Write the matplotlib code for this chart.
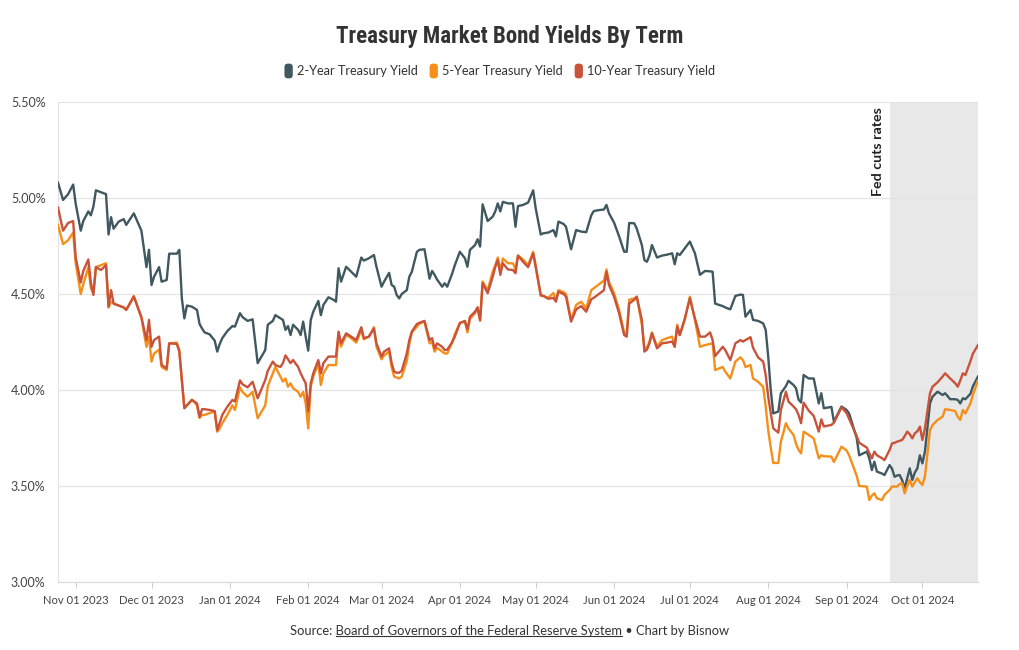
import pandas as pd
import numpy as np
import matplotlib
matplotlib.use("Agg")
import matplotlib.pyplot as plt
import matplotlib.dates as mdates
from matplotlib import font_manager
from matplotlib.patches import Patch, FancyBboxPatch
from matplotlib.legend_handler import HandlerPatch
from matplotlib.lines import Line2D

plt.rcParams["font.family"] = ["Lato", "DejaVu Sans"]

# --- data ---
dates = [
    "2023-10-25", "2023-10-27", "2023-10-29", "2023-10-31", "2023-11-01", "2023-11-03", "2023-11-04", "2023-11-06", "2023-11-07", "2023-11-08",
    "2023-11-09", "2023-11-11", "2023-11-13", "2023-11-14", "2023-11-15", "2023-11-16", "2023-11-18", "2023-11-20", "2023-11-21", "2023-11-24",
    "2023-11-27", "2023-11-29", "2023-11-30", "2023-12-01", "2023-12-02", "2023-12-04", "2023-12-05", "2023-12-07", "2023-12-08", "2023-12-11",
    "2023-12-12", "2023-12-13", "2023-12-14", "2023-12-15", "2023-12-17", "2023-12-19", "2023-12-20", "2023-12-21", "2023-12-22", "2023-12-24",
    "2023-12-26", "2023-12-27", "2023-12-28", "2023-12-29", "2023-12-31", "2024-01-02", "2024-01-03", "2024-01-05", "2024-01-06", "2024-01-08",
    "2024-01-10", "2024-01-12", "2024-01-15", "2024-01-16", "2024-01-18", "2024-01-19", "2024-01-21", "2024-01-22", "2024-01-23", "2024-01-24",
    "2024-01-25", "2024-01-26", "2024-01-28", "2024-01-29", "2024-01-30", "2024-01-31", "2024-02-01", "2024-02-02", "2024-02-03", "2024-02-05",
    "2024-02-06", "2024-02-07", "2024-02-09", "2024-02-11", "2024-02-12", "2024-02-13", "2024-02-14", "2024-02-16", "2024-02-18", "2024-02-20",
    "2024-02-22", "2024-02-23", "2024-02-25", "2024-02-27", "2024-02-28", "2024-03-01", "2024-03-02", "2024-03-04", "2024-03-05", "2024-03-06",
    "2024-03-07", "2024-03-08", "2024-03-09", "2024-03-11", "2024-03-12", "2024-03-13", "2024-03-15", "2024-03-16", "2024-03-18", "2024-03-20",
    "2024-03-21", "2024-03-22", "2024-03-23", "2024-03-25", "2024-03-26", "2024-03-27", "2024-03-29", "2024-03-30", "2024-04-01", "2024-04-03",
    "2024-04-04", "2024-04-05", "2024-04-07", "2024-04-08", "2024-04-09", "2024-04-10", "2024-04-12", "2024-04-14", "2024-04-15", "2024-04-16",
    "2024-04-17", "2024-04-18", "2024-04-20", "2024-04-22", "2024-04-23", "2024-04-24", "2024-04-26", "2024-04-28", "2024-04-30", "2024-05-01",
    "2024-05-03", "2024-05-04", "2024-05-06", "2024-05-08", "2024-05-09", "2024-05-10", "2024-05-12", "2024-05-13", "2024-05-15", "2024-05-17",
    "2024-05-19", "2024-05-21", "2024-05-23", "2024-05-24", "2024-05-26", "2024-05-28", "2024-05-29", "2024-05-30", "2024-06-01", "2024-06-03",
    "2024-06-05", "2024-06-06", "2024-06-07", "2024-06-09", "2024-06-10", "2024-06-12", "2024-06-13", "2024-06-14", "2024-06-15", "2024-06-16",
    "2024-06-18", "2024-06-20", "2024-06-22", "2024-06-24", "2024-06-25", "2024-06-26", "2024-06-27", "2024-06-29", "2024-07-01", "2024-07-03",
    "2024-07-05", "2024-07-07", "2024-07-09", "2024-07-10", "2024-07-11", "2024-07-14", "2024-07-15", "2024-07-17", "2024-07-19", "2024-07-21",
    "2024-07-22", "2024-07-23", "2024-07-25", "2024-07-26", "2024-07-28", "2024-07-30", "2024-07-31", "2024-08-01", "2024-08-02", "2024-08-03",
    "2024-08-05", "2024-08-06", "2024-08-08", "2024-08-09", "2024-08-11", "2024-08-12", "2024-08-13", "2024-08-14", "2024-08-15", "2024-08-17",
    "2024-08-19", "2024-08-21", "2024-08-22", "2024-08-23", "2024-08-26", "2024-08-27", "2024-08-30", "2024-09-01", "2024-09-02", "2024-09-05",
    "2024-09-06", "2024-09-09", "2024-09-10", "2024-09-11", "2024-09-12", "2024-09-13", "2024-09-15", "2024-09-16", "2024-09-18", "2024-09-19",
    "2024-09-20", "2024-09-21", "2024-09-22", "2024-09-23", "2024-09-24", "2024-09-25", "2024-09-26", "2024-09-27", "2024-09-28", "2024-09-29",
    "2024-09-30", "2024-10-01", "2024-10-02", "2024-10-04", "2024-10-05", "2024-10-07", "2024-10-09", "2024-10-10", "2024-10-12", "2024-10-14",
    "2024-10-15", "2024-10-16", "2024-10-17", "2024-10-18", "2024-10-20", "2024-10-21", "2024-10-23",
]

yield_2y = [
    5.08, 4.99, 5.02, 5.07, 4.97, 4.83, 4.88, 4.93, 4.91, 4.955,
    5.04, 5.03, 5.02, 4.81, 4.90, 4.84, 4.877, 4.89, 4.86, 4.92,
    4.83, 4.64, 4.73, 4.547, 4.59, 4.64, 4.564, 4.573, 4.71, 4.71,
    4.73, 4.477, 4.373, 4.44, 4.434, 4.417, 4.344, 4.32, 4.30, 4.29,
    4.257, 4.20, 4.24, 4.27, 4.307, 4.333, 4.33, 4.40, 4.38, 4.36,
    4.368, 4.14, 4.208, 4.34, 4.36, 4.39, 4.373, 4.365, 4.313, 4.333,
    4.286, 4.34, 4.313, 4.286, 4.356, 4.278, 4.205, 4.365, 4.408, 4.464,
    4.39, 4.443, 4.483, 4.47, 4.46, 4.634, 4.564, 4.642, 4.616, 4.59,
    4.69, 4.674, 4.686, 4.703, 4.642, 4.538, 4.564, 4.61, 4.547, 4.538,
    4.495, 4.477, 4.50, 4.52, 4.59, 4.616, 4.72, 4.73, 4.733, 4.58,
    4.62, 4.60, 4.575, 4.538, 4.556, 4.538, 4.608, 4.65, 4.72, 4.686,
    4.642, 4.73, 4.755, 4.785, 4.747, 4.967, 4.88, 4.903, 4.93, 4.972,
    4.93, 4.98, 4.972, 4.972, 4.85, 4.958, 4.964, 4.976, 5.04, 4.946,
    4.81, 4.816, 4.82, 4.833, 4.80, 4.877, 4.865, 4.85, 4.733, 4.833,
    4.825, 4.822, 4.91, 4.932, 4.937, 4.94, 4.964, 4.92, 4.872, 4.80,
    4.72, 4.72, 4.87, 4.868, 4.84, 4.755, 4.677, 4.668, 4.70, 4.755,
    4.69, 4.70, 4.705, 4.712, 4.655, 4.712, 4.703, 4.738, 4.773, 4.712,
    4.60, 4.62, 4.618, 4.616, 4.45, 4.437, 4.43, 4.42, 4.49, 4.497,
    4.495, 4.382, 4.417, 4.365, 4.36, 4.347, 4.313, 4.174, 4.0, 3.878,
    3.888, 3.983, 4.02, 4.048, 4.026, 4.009, 3.95, 3.935, 4.078, 4.06,
    4.06, 3.93, 3.983, 3.905, 3.912, 3.835, 3.914, 3.896, 3.878, 3.75,
    3.66, 3.679, 3.644, 3.583, 3.627, 3.575, 3.565, 3.557, 3.609, 3.59,
    3.548, 3.555, 3.557, 3.53, 3.488, 3.54, 3.592, 3.531, 3.57, 3.592,
    3.66, 3.618, 3.679, 3.93, 3.965, 3.991, 3.974, 3.983, 3.952, 3.952,
    3.948, 3.93, 3.957, 3.952, 3.98, 4.02, 4.07,
]

yield_5y = [
    4.86, 4.76, 4.78, 4.82, 4.66, 4.50, 4.55, 4.64, 4.53, 4.505,
    4.64, 4.65, 4.66, 4.43, 4.46, 4.45, 4.44, 4.43, 4.417, 4.49,
    4.375, 4.225, 4.278, 4.148, 4.19, 4.21, 4.12, 4.104, 4.243, 4.247,
    4.208, 4.05, 3.905, 3.92, 3.95, 3.92, 3.854, 3.87, 3.87, 3.88,
    3.888, 3.783, 3.80, 3.827, 3.87, 3.92, 3.896, 4.014, 3.99, 3.965,
    3.99, 3.853, 3.92, 4.02, 4.087, 4.12, 4.07, 4.044, 4.06, 4.017,
    4.035, 4.01, 3.99, 3.965, 3.99, 3.93, 3.80, 4.017, 4.07, 4.14,
    4.026, 4.087, 4.13, 4.13, 4.13, 4.287, 4.226, 4.287, 4.27, 4.247,
    4.313, 4.264, 4.278, 4.327, 4.226, 4.16, 4.18, 4.20, 4.12, 4.07,
    4.065, 4.06, 4.07, 4.15, 4.24, 4.30, 4.33, 4.345, 4.357, 4.243,
    4.25, 4.20, 4.22, 4.20, 4.19, 4.19, 4.25, 4.29, 4.35, 4.357,
    4.30, 4.37, 4.40, 4.43, 4.36, 4.565, 4.52, 4.616, 4.65, 4.69,
    4.62, 4.685, 4.66, 4.66, 4.628, 4.70, 4.68, 4.65, 4.72, 4.65,
    4.49, 4.49, 4.48, 4.505, 4.47, 4.52, 4.51, 4.50, 4.365, 4.443,
    4.46, 4.425, 4.52, 4.53, 4.55, 4.57, 4.628, 4.564, 4.505, 4.417,
    4.30, 4.29, 4.47, 4.477, 4.486, 4.34, 4.22, 4.22, 4.252, 4.30,
    4.226, 4.26, 4.27, 4.278, 4.226, 4.34, 4.286, 4.365, 4.486, 4.365,
    4.225, 4.234, 4.24, 4.243, 4.104, 4.12, 4.096, 4.06, 4.148, 4.17,
    4.156, 4.12, 4.13, 4.06, 4.043, 4.017, 3.914, 3.79, 3.70, 3.62,
    3.62, 3.73, 3.827, 3.80, 3.766, 3.72, 3.688, 3.67, 3.783, 3.766,
    3.748, 3.644, 3.66, 3.655, 3.653, 3.625, 3.705, 3.685, 3.66, 3.553,
    3.50, 3.497, 3.427, 3.45, 3.462, 3.436, 3.427, 3.453, 3.479, 3.497,
    3.497, 3.497, 3.51, 3.514, 3.462, 3.50, 3.531, 3.497, 3.52, 3.54,
    3.52, 3.505, 3.549, 3.79, 3.817, 3.844, 3.861, 3.90, 3.896, 3.89,
    3.86, 3.844, 3.896, 3.878, 3.93, 3.975, 4.05,
]

yield_10y = [
    4.95, 4.83, 4.87, 4.88, 4.69, 4.56, 4.62, 4.68, 4.56, 4.495,
    4.64, 4.625, 4.65, 4.434, 4.52, 4.45, 4.44, 4.43, 4.417, 4.486,
    4.38, 4.26, 4.365, 4.225, 4.26, 4.278, 4.13, 4.113, 4.243, 4.24,
    4.20, 4.05, 3.905, 3.92, 3.948, 3.93, 3.86, 3.90, 3.90, 3.896,
    3.89, 3.79, 3.83, 3.87, 3.913, 3.948, 3.94, 4.05, 4.03, 4.014,
    4.043, 3.957, 4.052, 4.10, 4.148, 4.13, 4.12, 4.14, 4.18, 4.16,
    4.14, 4.156, 4.12, 4.087, 4.06, 4.035, 3.888, 4.035, 4.087, 4.156,
    4.087, 4.14, 4.174, 4.174, 4.174, 4.304, 4.243, 4.295, 4.278, 4.26,
    4.327, 4.27, 4.278, 4.32, 4.243, 4.174, 4.20, 4.217, 4.14, 4.096,
    4.09, 4.09, 4.10, 4.19, 4.26, 4.304, 4.344, 4.35, 4.36, 4.26,
    4.27, 4.217, 4.243, 4.225, 4.208, 4.21, 4.25, 4.278, 4.348, 4.36,
    4.316, 4.382, 4.408, 4.43, 4.365, 4.556, 4.504, 4.59, 4.64, 4.677,
    4.60, 4.66, 4.628, 4.625, 4.608, 4.70, 4.668, 4.64, 4.712, 4.64,
    4.495, 4.49, 4.475, 4.48, 4.46, 4.512, 4.50, 4.486, 4.356, 4.42,
    4.437, 4.408, 4.473, 4.48, 4.50, 4.52, 4.616, 4.547, 4.486, 4.40,
    4.286, 4.278, 4.45, 4.47, 4.486, 4.365, 4.20, 4.21, 4.243, 4.295,
    4.217, 4.243, 4.247, 4.252, 4.225, 4.33, 4.286, 4.373, 4.477, 4.373,
    4.278, 4.278, 4.30, 4.26, 4.177, 4.225, 4.208, 4.156, 4.243, 4.26,
    4.252, 4.26, 4.275, 4.22, 4.17, 4.148, 4.078, 3.965, 3.88, 3.80,
    3.778, 3.896, 3.991, 3.94, 3.914, 3.90, 3.87, 3.827, 3.934, 3.893,
    3.865, 3.783, 3.847, 3.81, 3.818, 3.83, 3.91, 3.88, 3.85, 3.76,
    3.725, 3.70, 3.67, 3.644, 3.679, 3.66, 3.645, 3.635, 3.687, 3.722,
    3.725, 3.731, 3.735, 3.74, 3.76, 3.783, 3.77, 3.748, 3.774, 3.785,
    3.809, 3.74, 3.80, 3.983, 4.017, 4.04, 4.07, 4.087, 4.06, 4.035,
    4.017, 4.05, 4.087, 4.078, 4.15, 4.19, 4.234,
]

series_names = ["2-Year Treasury Yield", "5-Year Treasury Yield", "10-Year Treasury Yield"]
series_colors = ["#405860", "#f58f1a", "#c9533a"]
fed_cut_date = "2024-09-18"
y_ticks = [3.0, 3.5, 4.0, 4.5, 5.0, 5.5]
y_tick_labels = ["3.00%", "3.50%", "4.00%", "4.50%", "5.00%", "5.50%"]


# a condensed bold face for the title, if one is installed
def find_condensed():
    names = []
    for f in font_manager.fontManager.ttflist:
        narrow = ("condensed" in str(f.stretch)) or ("Condensed" in f.name) or ("Narrow" in f.name)
        if narrow:
            names.append((f.name, f.stretch))
    for pref in ["Roboto", "Open Sans", "Noto Sans", "Liberation Sans"]:
        for n, st in names:
            if n.startswith(pref):
                return n, st
    return names[0] if names else (None, None)


cond_name, cond_stretch = find_condensed()
if cond_name:
    title_font = dict(family=[cond_name, "DejaVu Sans"], fontstretch=cond_stretch, fontsize=16.5)
else:
    title_font = dict(family=["Roboto", "DejaVu Sans"], fontsize=14.5)

x = pd.to_datetime(dates)

fig = plt.figure(figsize=(10.2, 6.5), dpi=100)
ax = fig.add_axes([58 / 1020, 1 - 582 / 650, 920 / 1020, 480 / 650])

for vals, color in zip([yield_2y, yield_5y, yield_10y], series_colors):
    ax.plot(x, vals, color=color, lw=1.7, solid_joinstyle="round", zorder=3)

# shaded period after the cut
ax.axvspan(pd.Timestamp(fed_cut_date), x[-1], color="#e8e8e8", lw=0, zorder=0)
ax.annotate("Fed cuts rates", xy=(pd.Timestamp(fed_cut_date), 5.5), xytext=(-4, -4),
            textcoords="offset points", rotation=90, ha="right", va="top",
            fontsize=10.3, fontweight="bold", color="#222222")

ax.set_xlim(x[0], x[-1])
ax.set_ylim(3.0, 5.5)
ax.set_yticks(y_ticks)
ax.set_yticklabels(y_tick_labels)
ax.xaxis.set_major_locator(mdates.MonthLocator(bymonthday=1))
ax.xaxis.set_major_formatter(mdates.DateFormatter("%b %d %Y"))

ax.set_axisbelow(True)
ax.grid(axis="y", color="#e3e3e3", lw=0.8, zorder=0.5)
for s in ["top", "right"]:
    ax.spines[s].set_visible(False)
ax.spines["left"].set_color("#e3e3e3")
ax.spines["bottom"].set_color("#d9d9d9")
ax.tick_params(axis="y", length=0, pad=9, labelsize=9, labelcolor="#444444")
ax.tick_params(axis="x", length=4, color="#d0d0d0", pad=5, labelsize=8.1, labelcolor="#444444")

# title
fig.text(0.5, 1 - 36 / 650, "Treasury Market Bond Yields By Term", ha="center", va="center",
         fontweight="bold", color="#333333", **title_font)


# legend with rounded swatches
def rounded_swatch(legend, orig_handle, xdescent, ydescent, width, height, fontsize):
    return FancyBboxPatch((-xdescent, -ydescent), width, height,
                          boxstyle="round,pad=0,rounding_size=2.5")


handles = [Patch(facecolor=c, edgecolor="none") for c in series_colors]
fig.legend(handles, series_names, loc="center", bbox_to_anchor=(500 / 1020, 1 - 71 / 650),
           ncol=3, frameon=False, fontsize=9.2, handlelength=0.65, handleheight=1.4,
           handletextpad=0.35, columnspacing=0.9, labelcolor="#333333",
           handler_map={Patch: HandlerPatch(patch_func=rounded_swatch)})

# source line with underlined link text
prefix = "Source: "
link = "Board of Governors of the Federal Reserve System"
suffix = " \u2022 Chart by Bisnow"
src_size = 9.3
src = fig.text(0.5, 1 - 631 / 650, prefix + link + suffix, ha="center", va="center",
               fontsize=src_size, color="#333333")
fig.canvas.draw()
r = fig.canvas.get_renderer()


def text_w(s):
    t = fig.text(0, 0, s, fontsize=src_size)
    w = t.get_window_extent(r).width
    t.remove()
    return w


bb = src.get_window_extent(r)
x0 = bb.x0 + text_w(prefix + link) - text_w(link)
x1 = bb.x0 + text_w(prefix + link)
yline = bb.y0 + 1
fig.add_artist(Line2D([x0 / fig.bbox.width, x1 / fig.bbox.width],
                      [yline / fig.bbox.height] * 2, color="#333333", lw=0.8))

fig.savefig("out.png", dpi=100)
